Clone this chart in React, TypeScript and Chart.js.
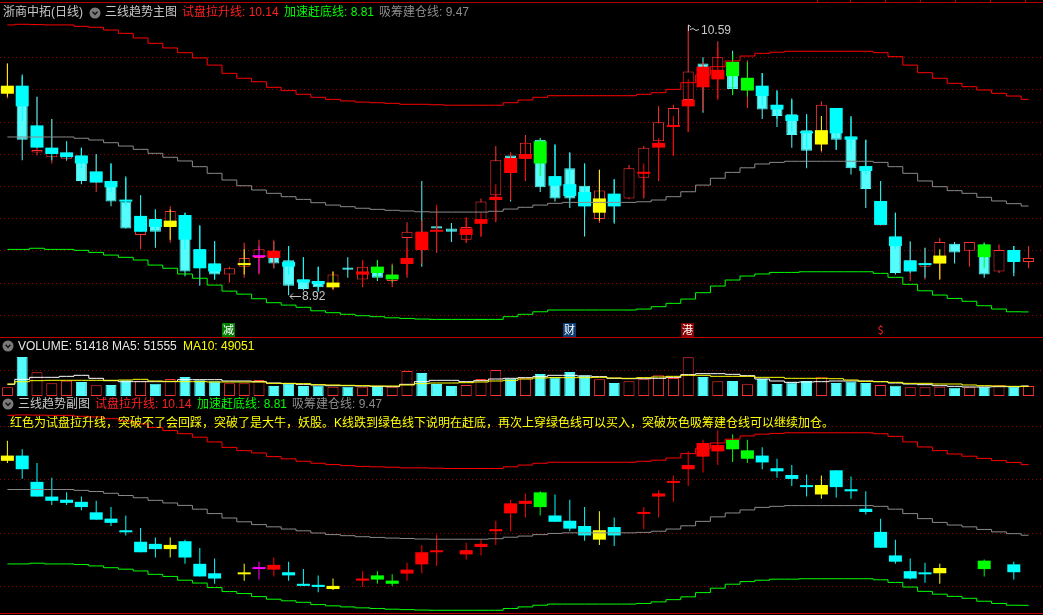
import React, { useEffect, useRef } from "react";
import { Chart, registerables } from "chart.js";

Chart.register(...registerables);

// ---------- data ----------
const categories = [
  "1","2","3","4","5","6","7","8","9","10","11","12","13","14","15","16","17","18","19","20",
  "21","22","23","24","25","26","27","28","29","30","31","32","33","34","35","36","37","38","39","40",
  "41","42","43","44","45","46","47","48","49","50","51","52","53","54","55","56","57","58","59","60",
  "61","62","63","64","65","66","67","68","69","70",
];

const realOpen = [10.17,10.22,9.80,9.77,9.76,9.78,9.61,9.62,9.49,9.28, 9.38,9.33,9.405,9.19,9.10,9.03,9.08,9.135,9.18,9.12,
  9.00,8.99,8.95,9.075,9.00,9.08,8.99,9.26,9.30,9.335, 9.32,9.25,9.36,9.53,9.78,9.76,9.88,9.65,9.70,9.59,
  9.38,9.54,9.51,9.64,9.87,9.96,10.13,10.36,10.26,10.37, 10.19,10.22,10.10,10.04,9.94,9.85,10.08,9.90,9.69,9.34,
  9.27,9.05,9.08,9.10,9.225,9.18,9.22,9.05,9.185,9.11];
const realClose = [10.22,9.88,9.815,9.82,9.80,9.62,9.68,9.49,9.32,9.40, 9.30,9.43,9.05,9.07,9.03,9.07,9.135,9.19,9.10,8.96,
  8.94,8.95,9.03,9.06,9.08,9.01,9.03,9.30,9.19,9.32, 9.30,9.33,9.49,9.75,9.67,9.86,9.58,9.51,9.51,9.46,
  9.56,9.46,9.70,9.83,9.99,10.08,10.31,10.22,10.40,10.20, 10.27,10.07,10.03,9.91,9.81,10.10,9.88,9.70,9.57,9.49,
  9.04,9.12,9.10,9.235,9.17,9.235,9.03,9.185,9.11,9.135];
const realHigh = [10.36,10.29,10.15,10.01,9.87,9.83,9.79,9.73,9.64,9.53, 9.44,9.46,9.42,9.34,9.24,9.08,9.23,9.25,9.24,9.21,
  9.14,9.08,9.05,9.14,9.12,9.12,9.10,9.36,9.62,9.45, 9.355,9.39,9.51,9.84,9.80,9.91,9.89,9.85,9.80,9.73,
  9.69,9.63,9.72,9.84,10.09,10.10,10.60,10.40,10.50,10.44, 10.38,10.30,10.19,10.14,10.04,10.12,10.08,10.03,9.88,9.62,
  9.42,9.235,9.20,9.26,9.235,9.235,9.23,9.22,9.21,9.21];
const realLow = [10.14,9.75,9.78,9.73,9.745,9.60,9.55,9.46,9.32,9.19, 9.20,9.23,9.02,8.96,9.00,8.98,9.01,9.03,9.07,8.90,
  8.93,8.93,8.93,9.01,8.95,8.99,8.95,9.01,9.08,9.17, 9.235,9.23,9.27,9.36,9.49,9.62,9.55,9.49,9.45,9.27,
  9.355,9.35,9.505,9.51,9.62,9.78,9.93,10.05,10.14,10.17, 10.08,10.01,9.96,9.83,9.70,9.80,9.815,9.66,9.45,9.34,
  9.03,8.99,9.00,9.00,9.10,9.08,9.01,9.04,9.02,9.07];

// indicator candles ("" = none): R red, C cyan, Y yellow, G green, M magenta
const ovColor = ["Y","C","C","C","C","C","C","C","C","C", "C","Y","C","C","C","","Y","M","R","C",
  "C","C","Y","","R","G","G","R","R","R", "","R","R","R","R","R","G","C","C","C",
  "Y","C","","R","R","R","R","R","R","G", "G","C","C","C","C","Y","C","C","C","C",
  "C","C","C","Y","","","G","","C",""];
const ovOpen = [10.22,10.22,9.97,9.83,9.80,9.78,9.68,9.62,9.50,9.40, 9.38,9.37,9.405,9.19,9.10,null,9.10,9.15,9.18,9.11,
  9.00,8.99,8.98,null,9.05,9.08,9.03,9.135,9.30,9.30, null,9.32,9.38,9.52,9.765,9.79,9.87,9.65,9.60,9.55,
  9.51,9.54,null,9.675,9.86,9.97,10.13,10.34,10.32,10.37, 10.27,10.22,10.10,10.035,9.93,9.94,10.08,9.90,9.714,9.494,
  9.27,9.12,9.10,9.15,null,null,9.22,null,9.185,null];
const ovClose = [10.17,10.09,9.83,9.79,9.77,9.73,9.61,9.58,9.49,9.30, 9.33,9.33,9.25,9.07,9.05,null,9.09,9.14,9.135,9.08,
  8.98,8.97,8.95,null,9.03,9.04,9.00,9.097,9.185,9.30, null,9.28,9.35,9.50,9.67,9.76,9.73,9.59,9.525,9.46,
  9.42,9.46,null,9.665,9.83,9.96,10.09,10.21,10.26,10.28, 10.19,10.155,10.07,9.998,9.92,9.85,9.92,9.88,9.683,9.343,
  9.21,9.05,9.09,9.10,null,null,9.14,null,9.11,null];
const ovHigh = [10.36,10.28,10.15,10.01,9.87,9.83,9.79,9.73,9.65,9.53, 9.44,9.44,9.42,9.34,9.24,null,9.19,9.21,9.25,9.21,
  9.14,9.08,9.05,null,9.12,9.12,9.09,9.20,9.37,9.47, null,9.39,9.42,9.60,9.80,9.86,9.88,9.85,9.80,9.73,
  9.69,9.63,null,9.73,9.89,10.03,10.26,10.37,10.46,10.42, 10.37,10.30,10.19,10.13,10.04,10.03,10.08,10.02,9.88,9.62,
  9.42,9.24,9.20,9.19,null,null,9.23,null,9.21,null];
const ovLow = [10.15,10.00,9.83,9.75,9.75,9.70,9.61,9.55,9.46,9.30, 9.25,9.25,9.19,9.07,9.00,null,9.03,9.04,9.07,9.03,
  8.98,8.92,8.94,null,8.97,9.00,8.98,9.03,9.10,9.17, null,9.23,9.27,9.37,9.50,9.63,9.65,9.59,9.50,9.41,
  9.37,9.36,null,9.52,9.63,9.78,9.93,10.06,10.13,10.16, 10.15,10.09,10.01,9.93,9.83,9.81,9.82,9.81,9.66,9.343,
  9.19,9.04,9.01,9.00,null,null,9.07,null,9.04,null];

const bandRed = [10.603,10.607,10.605,10.603,10.603,10.594,10.588,10.571,10.55,10.521, 10.487,10.458,10.428,10.395,10.35,10.298,10.267,10.245,10.21,10.189,
  10.166,10.147,10.134,10.124,10.117,10.113,10.109,10.103,10.103,10.10, 10.097,10.097,10.097,10.097,10.113,10.13,10.147,10.157,10.157,10.157,
  10.157,10.157,10.157,10.166,10.176,10.197,10.239,10.288,10.34,10.376, 10.407,10.424,10.431,10.437,10.437,10.437,10.437,10.437,10.437,10.428,
  10.403,10.35,10.302,10.267,10.235,10.214,10.193,10.172,10.155,10.134];
const bandGray = [9.897,9.897,9.897,9.897,9.897,9.889,9.878,9.861,9.84,9.819, 9.794,9.769,9.746,9.71,9.668,9.626,9.59,9.563,9.542,9.521,
  9.504,9.483,9.468,9.458,9.448,9.441,9.435,9.431,9.426,9.424, 9.424,9.424,9.424,9.429,9.443,9.454,9.468,9.479,9.485,9.485,
  9.485,9.485,9.485,9.489,9.50,9.521,9.552,9.594,9.637,9.674, 9.703,9.727,9.737,9.744,9.744,9.744,9.744,9.744,9.744,9.737,
  9.71,9.668,9.62,9.584,9.559,9.542,9.517,9.494,9.477,9.462];
const bandGreen = [9.189,9.189,9.196,9.189,9.189,9.183,9.17,9.153,9.139,9.122, 9.09,9.07,9.034,9.007,8.964,8.926,8.907,8.878,8.853,8.838,
  8.824,8.802,8.79,8.78,8.771,8.765,8.758,8.754,8.75,8.748, 8.748,8.748,8.748,8.748,8.765,8.78,8.796,8.807,8.807,8.807,
  8.807,8.807,8.807,8.813,8.828,8.849,8.876,8.916,8.958,8.996, 9.021,9.034,9.044,9.044,9.048,9.048,9.048,9.048,9.048,9.038,
  9.013,8.969,8.928,8.901,8.88,8.862,8.834,8.813,8.796,8.795];

const volume = [44600,200500,121700,65100,78800,72000,54800,56600,80600,78800, 63400,87400,97700,80600,75400,65100,65100,82300,51400,65100,
  51400,53100,48000,48000,44600,51400,48000,128600,118300,61700, 51400,56600,87400,133700,89100,90900,113100,96000,123400,106300,
  85700,66800,75400,85700,106300,92600,198800,97700,75400,77100, 60000,87400,61700,70300,77100,96000,66800,73700,66800,56600,
  53100,44600,44600,48000,42800,44600,48000,54800,48000,51418];
const ma5 = [60000,85700,96000,96000,101100,106300,90900,78800,73700,73700, 73700,73700,84000,84000,84000,77100,77100,73700,66800,63400,
  60000,56600,53100,53100,51400,49700,48000,60000,73700,80600, 80600,73700,78800,87400,90900,94300,99400,106300,106300,102800,
  99400,90900,89100,89100,90900,96000,109700,114800,114800,111400, 104500,87400,77100,70300,72000,73700,77100,77100,77100,73700,
  66800,61700,58300,53100,49700,46300,46300,48000,48000,51555];
const ma10 = [61700,73700,78800,80600,80600,80600,80600,80600,82300,85700, 77100,75400,73700,73700,72000,72000,72000,72000,65100,65100,
  63400,58300,56600,54800,53100,51400,51400,56600,63400,66800, 66800,68500,72000,77100,80600,87400,92600,94300,94300,94300,
  96000,92600,90900,94300,97700,101100,106300,106300,101100,101100, 101100,96000,96000,90900,90900,90900,89100,82300,75400,73700,
  70300,65100,65100,61700,61700,56600,53100,51400,49700,49051];

// axis ranges and grid levels
const MAIN_MIN = 8.637, MAIN_MAX = 10.76;
const SUB_MIN = 8.722, SUB_MAX = 10.787;
const VOL_MIN = 0, VOL_MAX = 298236;
const mainGrid = [10.401, 10.198, 9.994, 9.791, 9.588, 9.385, 9.182, 8.978, 8.775];
const subGrid = [10.503, 9.995, 9.486, 8.978];
const volGrid = [133700];

const HIGH_LABEL = "10.59";
const LOW_LABEL = "8.92";
const markerIdx = [15, 38, 46, 59];
const markerText = ["减", "财", "港", "$"];
const markerBg = ["#007d00", "#0e3c70", "#8a0000", ""];
const markerFg = ["#ffffff", "#ffffff", "#ffffff", "#ff2020"];
const rulerTicks = [817, 850, 885, 920, 955, 990, 1025];

const NOTE = "红色为试盘拉升线，突破不了会回踩，突破了是大牛，妖股。K线跌到绿色线下说明在赶底，再次上穿绿色线可以买入，突破灰色吸筹建仓线可以继续加仓。";

// ---------- styles ----------
const UP = "#ff3232";
const DOWN = "#54fcfc";
const OVC: Record<string, string> = { R: "#ff0000", C: "#00ffff", Y: "#ffff00", G: "#00ff00", M: "#ff00ff" };
const FONT = '"Liberation Sans", "Noto Sans CJK SC", sans-serif';

const isUp = (i: number) => realClose[i] >= realOpen[i];

function gridPlugin(vals: number[]) {
  return {
    id: "dotgrid",
    beforeDatasetsDraw(chart: any) {
      const { ctx, scales } = chart;
      const y = scales.y;
      ctx.save();
      ctx.strokeStyle = "#9a0000";
      ctx.lineWidth = 1;
      ctx.setLineDash([1, 3]);
      for (const v of vals) {
        const py = Math.round(y.getPixelForValue(v)) + 0.5;
        ctx.beginPath();
        ctx.moveTo(0, py);
        ctx.lineTo(chart.width, py);
        ctx.stroke();
      }
      ctx.restore();
    },
  };
}

const extremesPlugin = {
  id: "extremes",
  afterDatasetsDraw(chart: any) {
    const { ctx, scales } = chart;
    const x = scales.x, y = scales.y;
    let hi = 0, lo = 0;
    realHigh.forEach((v, i) => { if (v > realHigh[hi]) hi = i; });
    realLow.forEach((v, i) => { if (v < realLow[lo]) lo = i; });
    ctx.save();
    ctx.font = "12px " + FONT;
    ctx.fillStyle = "#c8c8c8";
    ctx.strokeStyle = "#c8c8c8";
    ctx.lineWidth = 1;
    ctx.textBaseline = "middle";
    const hx = Math.round(x.getPixelForValue(hi));
    const hy = Math.round(y.getPixelForValue(realHigh[hi]));
    ctx.beginPath();
    ctx.moveTo(hx + 0.5, hy + 6);
    ctx.lineTo(hx + 0.5, hy);
    ctx.lineTo(hx + 3, hy + 2);
    ctx.moveTo(hx + 2, hy + 4.5);
    ctx.lineTo(hx + 5, hy + 3.5);
    ctx.lineTo(hx + 8, hy + 5.5);
    ctx.lineTo(hx + 11, hy + 4.5);
    ctx.stroke();
    ctx.fillText(HIGH_LABEL, hx + 13, hy + 6);
    const lx = Math.round(x.getPixelForValue(lo));
    const ly = Math.round(y.getPixelForValue(realLow[lo]));
    ctx.beginPath();
    ctx.moveTo(lx + 1, ly + 1.5);
    ctx.lineTo(lx + 12, ly + 1.5);
    ctx.moveTo(lx + 1, ly + 1.5);
    ctx.lineTo(lx + 4, ly - 1.5);
    ctx.moveTo(lx + 1, ly + 1.5);
    ctx.lineTo(lx + 4, ly + 4.5);
    ctx.stroke();
    ctx.fillText(LOW_LABEL, lx + 13, ly + 1.5);
    // markers at the bottom
    ctx.font = '11px "Noto Sans CJK SC", sans-serif';
    ctx.textAlign = "center";
    markerIdx.forEach((idx, k) => {
      const mx = Math.round(x.getPixelForValue(idx));
      const top = chart.chartArea.bottom - 14;
      if (markerBg[k]) {
        ctx.fillStyle = markerBg[k];
        ctx.fillRect(mx - 7, top, 13, 14);
      }
      ctx.fillStyle = markerFg[k];
      ctx.fillText(markerText[k], mx - 0.5, top + 7);
    });
    ctx.restore();
  },
};

function baseOptions(min: number, max: number): any {
  return {
    responsive: false,
    maintainAspectRatio: false,
    animation: false,
    devicePixelRatio: 1,
    events: [],
    layout: { padding: { left: 0, right: 7, top: 0, bottom: 0 } },
    plugins: { legend: { display: false }, tooltip: { enabled: false } },
    scales: {
      x: { display: false, offset: true, grid: { display: false } },
      y: { display: false, min, max },
    },
  };
}

function overlayDatasets(): any[] {
  return [
    {
      type: "bar",
      label: "ovBody",
      data: categories.map((_, i) => (ovColor[i] ? [ovClose[i], ovOpen[i]] : null)),
      backgroundColor: categories.map((_, i) => OVC[ovColor[i]] || "rgba(0,0,0,0)"),
      borderWidth: 0,
      barThickness: 13,
      minBarLength: 2,
      inflateAmount: 0,
      grouped: false,
      order: 1,
    },
    {
      type: "bar",
      label: "ovWick",
      data: categories.map((_, i) => (ovColor[i] ? [ovLow[i], ovHigh[i]] : null)),
      backgroundColor: categories.map((_, i) => OVC[ovColor[i]] || "rgba(0,0,0,0)"),
      borderWidth: 0,
      barThickness: 1,
      inflateAmount: 0,
      grouped: false,
      order: 2,
    },
  ];
}

function bandDatasets(): any[] {
  const mk = (label: string, data: number[], color: string) => ({
    type: "line",
    label,
    data,
    borderColor: color,
    borderWidth: 1,
    pointRadius: 0,
    stepped: "middle",
    fill: false,
    order: 0,
  });
  return [
    mk("试盘拉升线", bandRed, "#ff0000"),
    mk("吸筹建仓线", bandGray, "#8a8a8a"),
    mk("加速赶底线", bandGreen, "#00ff00"),
  ];
}

const Icon = ({ left, top }: { left: number; top: number }) => (
  <svg style={{ position: "absolute", left, top }} width="12" height="12" viewBox="0 0 12 12">
    <circle cx="6" cy="6" r="5.5" fill="#7a7a7a" />
    <polyline points="3.5,4.8 6,7.3 8.5,4.8" fill="none" stroke="#1a1a1a" strokeWidth="1.6" />
  </svg>
);

const T = ({ left, top, color, children, style }: any) => (
  <div
    style={{
      position: "absolute",
      left,
      top,
      color,
      fontSize: 12,
      lineHeight: "14px",
      whiteSpace: "nowrap",
      fontFamily: FONT,
      ...style,
    }}
  >
    {children}
  </div>
);

export default function App() {
  const mainRef = useRef<HTMLCanvasElement>(null);
  const volRef = useRef<HTMLCanvasElement>(null);
  const subRef = useRef<HTMLCanvasElement>(null);

  useEffect(() => {
    const charts: Chart[] = [];

    charts.push(
      new Chart(mainRef.current as HTMLCanvasElement, {
        type: "bar",
        data: {
          labels: categories,
          datasets: [
            ...bandDatasets(),
            ...overlayDatasets(),
            {
              type: "bar",
              label: "body",
              data: categories.map((_, i) => [realOpen[i], realClose[i]]),
              backgroundColor: categories.map((_, i) => (isUp(i) ? "#000000" : DOWN)),
              borderColor: categories.map((_, i) => (isUp(i) ? UP : DOWN)),
              borderWidth: 1,
              borderSkipped: false,
              barThickness: 11,
              minBarLength: 1,
              inflateAmount: 0,
              grouped: false,
              order: 3,
            },
            {
              type: "bar",
              label: "wick",
              data: categories.map((_, i) => [realLow[i], realHigh[i]]),
              backgroundColor: categories.map((_, i) => (isUp(i) ? UP : DOWN)),
              borderWidth: 0,
              barThickness: 1,
              inflateAmount: 0,
              grouped: false,
              order: 4,
            },
          ] as any,
        },
        options: baseOptions(MAIN_MIN, MAIN_MAX),
        plugins: [gridPlugin(mainGrid), extremesPlugin],
      })
    );

    charts.push(
      new Chart(volRef.current as HTMLCanvasElement, {
        type: "bar",
        data: {
          labels: categories,
          datasets: [
            {
              type: "line",
              label: "MA5",
              data: ma5,
              borderColor: "#ffffff",
              borderWidth: 1,
              pointRadius: 0,
              stepped: "middle",
              order: 1,
            },
            {
              type: "line",
              label: "MA10",
              data: ma10,
              borderColor: "#ffff00",
              borderWidth: 1,
              pointRadius: 0,
              stepped: "middle",
              order: 0,
            },
            {
              type: "bar",
              label: "VOLUME",
              data: volume,
              backgroundColor: categories.map((_, i) => (isUp(i) ? "#000000" : DOWN)),
              borderColor: categories.map((_, i) => (isUp(i) ? UP : DOWN)),
              borderWidth: 1,
              borderSkipped: false,
              barThickness: 11,
              inflateAmount: 0,
              grouped: false,
              order: 2,
            },
          ] as any,
        },
        options: baseOptions(VOL_MIN, VOL_MAX),
        plugins: [gridPlugin(volGrid)],
      })
    );

    charts.push(
      new Chart(subRef.current as HTMLCanvasElement, {
        type: "bar",
        data: {
          labels: categories,
          datasets: [...bandDatasets(), ...overlayDatasets()] as any,
        },
        options: baseOptions(SUB_MIN, SUB_MAX),
        plugins: [gridPlugin(subGrid)],
      })
    );

    return () => charts.forEach((c) => c.destroy());
  }, []);

  return (
    <div
      style={{
        position: "fixed",
        left: 0,
        top: 0,
        width: 1043,
        height: 615,
        background: "#000",
        overflow: "hidden",
      }}
    >
      <canvas ref={mainRef} width={1043} height={337} style={{ position: "absolute", left: 0, top: 0, width: 1043, height: 337 }} />
      <canvas ref={volRef} width={1043} height={58} style={{ position: "absolute", left: 0, top: 338, width: 1043, height: 58 }} />
      <canvas ref={subRef} width={1043} height={217} style={{ position: "absolute", left: 0, top: 396, width: 1043, height: 217 }} />

      <div style={{ position: "absolute", left: 0, top: 2, width: 1043, height: 1, background: "#b40000" }} />
      {rulerTicks.map((tx) => (
        <div key={tx} style={{ position: "absolute", left: tx, top: 0, width: 1, height: 3, background: "#b40000" }} />
      ))}
      <div style={{ position: "absolute", left: 0, top: 337, width: 1043, height: 1, background: "#c00000" }} />
      <div style={{ position: "absolute", left: 0, top: 613, width: 1043, height: 1, background: "#c00000" }} />

      <T left={3} top={5} color="#c8c8c8">浙商中拓(日线)</T>
      <Icon left={89} top={7} />
      <T left={105} top={5} color="#c8c8c8">三线趋势主图</T>
      <T left={182} top={5} color="#ff2020">试盘拉升线: 10.14</T>
      <T left={284} top={5} color="#00ff00">加速赶底线: 8.81</T>
      <T left={379} top={5} color="#8c8c8c">吸筹建仓线: 9.47</T>

      <Icon left={2} top={340} />
      <T left={18} top={339} color="#e6e6e6">VOLUME: 51418 MA5: 51555</T>
      <T left={183} top={339} color="#ffff00">MA10: 49051</T>

      <Icon left={2} top={398} />
      <T left={18} top={397} color="#c8c8c8">三线趋势副图</T>
      <T left={95} top={397} color="#ff2020">试盘拉升线: 10.14</T>
      <T left={197} top={397} color="#00ff00">加速赶底线: 8.81</T>
      <T left={292} top={397} color="#8c8c8c">吸筹建仓线: 9.47</T>

      <T left={10} top={416} color="#ffff00">{NOTE}</T>
    </div>
  );
}
